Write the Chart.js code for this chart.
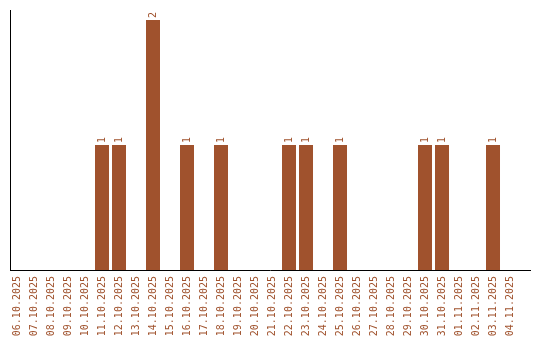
<!DOCTYPE html>
<html>
<head>
<meta charset="utf-8">
<script src="https://cdn.jsdelivr.net/npm/chart.js@4/dist/chart.umd.min.js"></script>
<style>
  html, body { margin: 0; padding: 0; background: #fff; }
  #caja { width: 540px; height: 340px; }
</style>
</head>
<body>
<div id="caja"><canvas id="grafico"></canvas></div>
<script>
// Fechas (categorías) y cantidades por día
const fechas = [
  '06.10.2025', '07.10.2025', '08.10.2025', '09.10.2025', '10.10.2025',
  '11.10.2025', '12.10.2025', '13.10.2025', '14.10.2025', '15.10.2025',
  '16.10.2025', '17.10.2025', '18.10.2025', '19.10.2025', '20.10.2025',
  '21.10.2025', '22.10.2025', '23.10.2025', '24.10.2025', '25.10.2025',
  '26.10.2025', '27.10.2025', '28.10.2025', '29.10.2025', '30.10.2025',
  '31.10.2025', '01.11.2025', '02.11.2025', '03.11.2025', '04.11.2025'
];
const cantidades = [
  0, 0, 0, 0, 0,
  1, 1, 0, 2, 0,
  1, 0, 1, 0, 0,
  0, 1, 1, 0, 1,
  0, 0, 0, 0, 1,
  1, 0, 0, 1, 0
];

const color = '#a0522d';
const fuente = { family: '"DejaVu Sans Mono", monospace', size: 10 };

// Etiquetas de valor giradas encima de cada barra
const etiquetasValor = {
  id: 'etiquetasValor',
  afterDatasetsDraw(chart) {
    const ctx = chart.ctx;
    const meta = chart.getDatasetMeta(0);
    ctx.save();
    ctx.fillStyle = color;
    ctx.font = '10px ' + fuente.family;
    ctx.textAlign = 'left';
    ctx.textBaseline = 'middle';
    meta.data.forEach((barra, i) => {
      if (!cantidades[i]) return;
      ctx.save();
      ctx.translate(barra.x, barra.y - 2);
      ctx.rotate(-Math.PI / 2);
      ctx.fillText(String(cantidades[i]), 0, 0);
      ctx.restore();
    });
    ctx.restore();
  }
};

const puntos = cantidades.map((v, i) => ({ x: i, y: v }));

new Chart(document.getElementById('grafico'), {
  type: 'bar',
  data: {
    datasets: [{
      data: puntos,
      backgroundColor: color,
      borderWidth: 0,
      barPercentage: 1,
      categoryPercentage: 14 / 17
    }]
  },
  options: {
    responsive: true,
    maintainAspectRatio: false,
    animation: false,
    layout: { padding: { left: 10, right: 10, top: 10, bottom: 0 } },
    plugins: {
      legend: { display: false },
      tooltip: { enabled: false }
    },
    scales: {
      x: {
        type: 'linear',
        offset: false,
        min: -7 / 17,
        max: 30.176,
        grid: { display: false, drawTicks: false },
        border: { display: true, color: '#000', width: 1 },
        afterFit: (s) => { s.height = 70; s.paddingLeft = 0; s.paddingRight = 0; },
        ticks: {
          stepSize: 1,
          autoSkip: false,
          includeBounds: false,
          minRotation: 90,
          maxRotation: 90,
          padding: 6,
          color: color,
          font: fuente,
          callback: (v) => fechas[v] ?? ''
        }
      },
      y: {
        min: 0,
        max: 2.08,
        grid: { display: false, drawTicks: false },
        border: { display: true, color: '#000', width: 1 },
        afterFit: (s) => { s.width = 0; },
        ticks: { display: false }
      }
    }
  },
  plugins: [etiquetasValor]
});
</script>
</body>
</html>
